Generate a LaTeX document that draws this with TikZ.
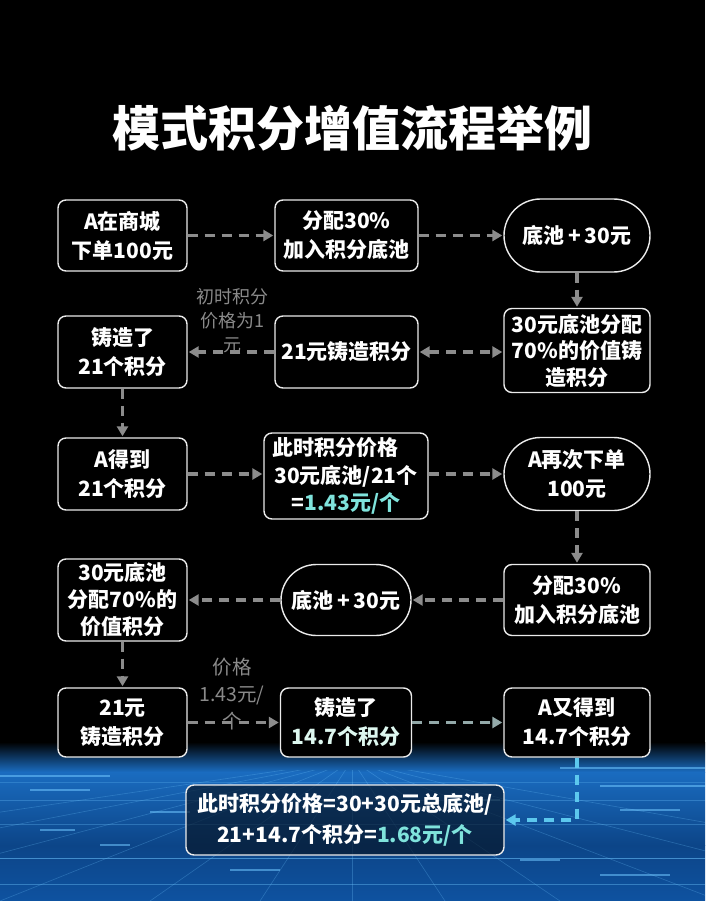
\documentclass[tikz,border=0pt]{standalone}
\usepackage{fontspec}
\setmainfont{Noto Sans CJK SC}
\usetikzlibrary{arrows.meta,shapes.misc}
\definecolor{arrgray}{HTML}{8C8C8C}
\definecolor{arrteal}{HTML}{93A9A9}
\definecolor{arrblue}{HTML}{5CC8EE}
\definecolor{cyantxt}{HTML}{7FE3DC}
\definecolor{minttxt}{HTML}{DDF7EF}
\definecolor{annot}{HTML}{8A8A8A}
\definecolor{bgblueA}{HTML}{1A6CC0}
\definecolor{bgblueB}{HTML}{0C4588}
\definecolor{bgblueC}{HTML}{0E52A0}
\definecolor{gridline}{HTML}{6FC6FF}
\definecolor{pfill}{HTML}{07182C}
\tikzset{
  box/.style={draw=white!92!black, line width=1.4pt, rounded corners=8pt, fill=black,
    text=white, font=\bfseries\fontsize{21}{29}\selectfont, align=center, inner sep=0pt},
  pill/.style={box, rounded rectangle, sharp corners},
  flow/.style={draw=arrgray, line width=3.2pt, dash pattern=on 10pt off 7pt,
    -{Triangle[length=10pt,width=11pt]}, shorten >=1pt},
  annotation/.style={text=annot, align=center, inner sep=0pt}
}
\begin{document}
\begin{tikzpicture}[x=1pt,y=-1pt]
\useasboundingbox (0,0) rectangle (705,901);
% background
\fill[black] (0,0) rectangle (705,901);
\shade[top color=black, bottom color=bgblueA] (0,742) rectangle (705,772);
\shade[top color=bgblueA, bottom color=bgblueB] (0,772) rectangle (705,845);
\shade[top color=bgblueB, bottom color=bgblueC] (0,845) rectangle (705,901);
\begin{scope}
\clip (0,770) rectangle (705,901);
\foreach \bx in {-600,-380,-180,0,150,260,352,445,560,720,900,1150}
  \draw[gridline, opacity=0.28, line width=0.6pt] (352,760) -- (\bx,901);
\foreach \hy/\op in {782/0.25,800/0.3,824/0.3,858/0.55,884/0.4}
  \draw[gridline, opacity=\op, line width=0.7pt] (0,\hy) -- (705,\hy);
\end{scope}
\foreach \sx/\sy/\sl in {0/776/110,30/790/60,560/768/145,600/786/105,150/812/40,620/810/60,40/830/35,230/870/50,520/860/40,600/875/70,100/845/30,470/800/30}
  \draw[gridline, opacity=0.55, line width=1.2pt] (\sx,\sy) -- ++(\sl,0);
% title
\node[text=white, font=\bfseries\fontsize{48}{56}\selectfont] (title) at (352.5,128) {模式积分增值流程举例};
% row 1
\node[box, minimum width=129pt, minimum height=71pt] (A) at (122.5,235.5) {A在商城\\下单100元};
\node[box, minimum width=143pt, minimum height=71pt] (B) at (346.5,235.5) {分配30\%\\加入积分底池};
\node[pill, minimum width=146pt, minimum height=73pt] (C) at (577,235.5) {底池\,+\,30元};
% row 2
\node[box, minimum width=129pt, minimum height=72pt] (D) at (122.5,352) {铸造了\\21个积分};
\node[box, minimum width=143pt, minimum height=72pt] (E) at (346.5,352) {21元铸造积分};
\node[box, minimum width=146pt, minimum height=84pt, font=\bfseries\fontsize{21}{26.5}\selectfont] (F) at (577,350.5) {30元底池分配\\70\%的价值铸\\造积分};
% row 3
\node[box, minimum width=129pt, minimum height=72pt] (G) at (122.5,474) {A得到\\21个积分};
\node[box, minimum width=164pt, minimum height=86pt, font=\bfseries\fontsize{21}{27.5}\selectfont] (H) at (346,476) {此时积分价格\phantom{价}\\30元底池/21个\\=\textcolor{cyantxt}{1.43元/个}};
\node[pill, minimum width=146pt, minimum height=73pt] (I) at (577,474) {A再次下单\\100元};
% row 4
\node[box, minimum width=129pt, minimum height=82pt, font=\bfseries\fontsize{21}{27}\selectfont] (J) at (122.5,600) {30元底池\\分配70\%的\\价值积分};
\node[pill, minimum width=130pt, minimum height=71pt] (K) at (346,600) {底池\,+\,30元};
\node[box, minimum width=146pt, minimum height=71pt] (L) at (577,600) {分配30\%\\加入积分底池};
% row 5
\node[box, minimum width=129pt, minimum height=69pt] (M) at (122.5,722.5) {21元\\铸造积分};
\node[box, minimum width=131pt, minimum height=69pt] (N) at (346,722.5) {铸造了\\\textcolor{minttxt}{14.7个积分}};
\node[box, minimum width=146pt, minimum height=69pt] (O) at (577,722.5) {A又得到\\14.7个积分};
% bottom
\node[box, fill=pfill, fill opacity=0.7, text opacity=1, draw=white!85!gray, minimum width=318pt, minimum height=70pt, font=\bfseries\fontsize{21}{31}\selectfont] (P) at (345,820) {此时积分价格=30+30元总底池/\\21+14.7个积分=\textcolor{cyantxt}{1.68元/个}};
% connectors
\draw[flow] (A.east) -- (B.west);
\draw[flow] (B.east) -- (C.west);
\draw[flow] (C.south) -- (F.north);
\draw[flow, {Triangle[length=10pt,width=11pt]}-{Triangle[length=10pt,width=11pt]}, shorten <=1pt] (E.east) -- (E.east -| F.west);
\draw[flow] (E.west) -- (D.east);
\draw[flow] (D.south) -- (G.north);
\draw[flow] (G.east) -- (G.east -| H.west);
\draw[flow] (H.east |- I.west) -- (I.west);
\draw[flow] (I.south) -- (L.north);
\draw[flow] (L.west) -- (K.east);
\draw[flow] (K.west) -- (K.west -| J.east);
\draw[flow] (J.south) -- (M.north);
\draw[flow] (M.east) -- (N.west);
\draw[flow, draw=arrteal] (N.east) -- (O.west);
\draw[flow, draw=arrblue] (O.south) |- (P.east);
% annotations
\node[annotation, font=\fontsize{18}{24}\selectfont] (note1) at (232,321) {初时积分\\价格为1\\元};
\node[annotation, font=\fontsize{19.5}{27}\selectfont] (note2) at (232,694) {价格\\1.43元/\\个};
\end{tikzpicture}
\end{document}
